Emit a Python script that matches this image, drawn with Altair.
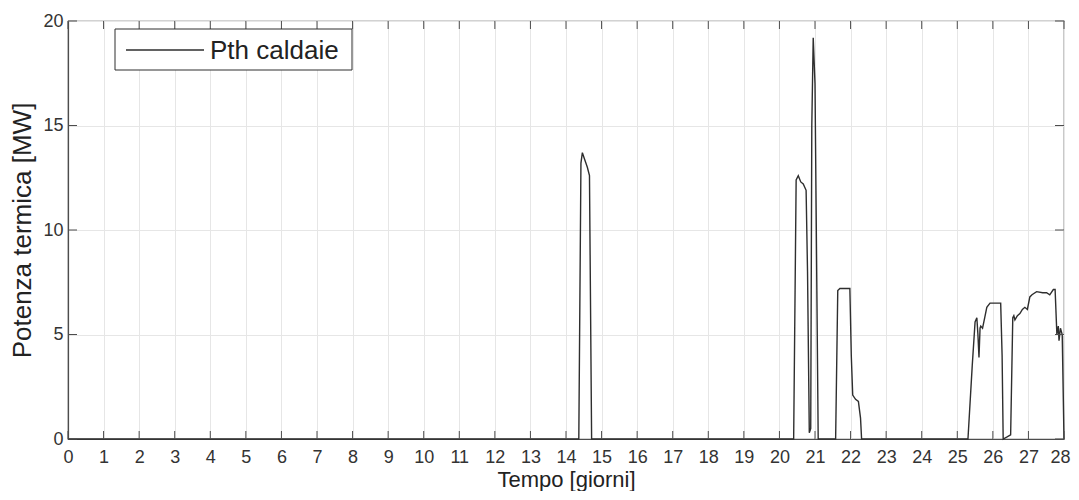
import altair as alt
import pandas as pd

# ---- data ----
days = [0, 14.36, 14.42, 14.46, 14.52, 14.60, 14.66, 14.72,
        20.40, 20.47, 20.53, 20.60, 20.67, 20.75, 20.79, 20.84, 20.88, 20.91, 20.95, 21.00, 21.09,
        21.58, 21.64, 21.70, 21.98, 22.02, 22.06, 22.14, 22.22, 22.28, 22.31,
        25.30, 25.42, 25.50, 25.55, 25.58, 25.61, 25.64, 25.66, 25.71, 25.77, 25.83, 25.92, 26.10,
        26.22, 26.26, 26.29, 26.40, 26.50, 26.56, 26.59, 26.62, 26.69, 26.76, 26.83, 26.90, 26.97,
        27.04, 27.10, 27.23, 27.40, 27.51, 27.60, 27.70, 27.75, 27.80, 27.84, 27.86, 27.90, 27.95, 28.00]
power = [0, 0, 13.2, 13.7, 13.4, 13.0, 12.6, 0,
         0, 12.4, 12.6, 12.3, 12.2, 11.9, 8.0, 0.3, 0.5, 15.0, 19.2, 17.0, 0,
         0, 7.1, 7.2, 7.2, 4.0, 2.1, 1.9, 1.8, 1.0, 0,
         0, 3.5, 5.6, 5.8, 5.0, 3.9, 5.3, 5.4, 5.3, 5.8, 6.3, 6.5, 6.5,
         6.5, 4.0, 0, 0.1, 0.2, 5.8, 5.9, 5.7, 5.9, 6.0, 6.2, 6.3, 6.2,
         6.8, 6.9, 7.05, 7.0, 7.0, 6.9, 7.15, 7.15, 5.0, 5.4, 4.7, 5.3, 5.0, 0]
series_name = "Pth caldaie"
x_ticks = list(range(0, 29))
y_ticks = [0, 5, 10, 15, 20]

W, H = 996, 418
FONT = "Liberation Sans"
AX = "#4d4d4d"
LINE = "#2e2e2e"

df = pd.DataFrame({"giorni": days, "MW": power})
xt = pd.DataFrame({"giorni": x_ticks})
yt = pd.DataFrame({"MW": y_ticks})
leg = pd.DataFrame({"serie": [series_name]})

xscale = alt.Scale(domain=[0, 28], nice=False, zero=False)
yscale = alt.Scale(domain=[0, 20], nice=False)
xaxis = alt.Axis(values=x_ticks, title="Tempo [giorni]", labelPadding=9,
                 titlePadding=3, titleFontSize=22, labelFlush=False,
                 labelOffset={"condition": {"test": "datum.value == 28", "value": -4},
                              "value": 0})
yaxis = alt.Axis(values=y_ticks, title="Potenza termica [MW]", labelPadding=5,
                 titlePadding=7, titleFontSize=26)

X = alt.X("giorni:Q", scale=xscale, axis=xaxis)
Y = alt.Y("MW:Q", scale=yscale, axis=yaxis)

line = alt.Chart(df).mark_line(strokeWidth=1.4, color=LINE).encode(x=X, y=Y)

tick_b = alt.Chart(xt).mark_rule(color=AX, strokeWidth=1).encode(
    x=X, y=alt.value(H), y2=alt.value(H - 8))
tick_t = alt.Chart(xt).mark_rule(color=AX, strokeWidth=1).encode(
    x=X, y=alt.value(0), y2=alt.value(8))
tick_l = alt.Chart(yt).mark_rule(color=AX, strokeWidth=1).encode(
    y=Y, x=alt.value(0), x2=alt.value(9))
tick_r = alt.Chart(yt).mark_rule(color=AX, strokeWidth=1).encode(
    y=Y, x=alt.value(W), x2=alt.value(W - 9))

# legend box (inside the plot, top-left)
leg_box = alt.Chart(leg).mark_rect(fill="white", stroke=LINE, strokeWidth=1).encode(
    x=alt.value(47), x2=alt.value(284), y=alt.value(8), y2=alt.value(49))
leg_line = alt.Chart(leg).mark_rule(color=LINE, strokeWidth=1.3).encode(
    x=alt.value(58), x2=alt.value(136), y=alt.value(29))
leg_text = alt.Chart(leg).mark_text(align="left", baseline="middle", font=FONT,
                                    fontSize=26, color="#222222").encode(
    x=alt.value(142), y=alt.value(30), text="serie:N")

chart = alt.layer(line, tick_b, tick_t, tick_l, tick_r, leg_box, leg_line, leg_text).properties(
    width=W, height=H,
    autosize=alt.AutoSizeParams(type="none"),
    padding={"left": 60, "top": 13, "right": 7, "bottom": 52},
).configure_view(
    stroke=AX, strokeWidth=1.2
).configure_axis(
    domainColor=AX, domainWidth=1.2, gridColor="#e6e6e6", gridWidth=1, tickSize=0,
    labelFont=FONT, labelFontSize=18, labelColor="#333333",
    titleFont=FONT, titleFontWeight="normal", titleColor="#222222",
)

chart.save("out.html", embed_options={"renderer": "svg", "actions": False})
